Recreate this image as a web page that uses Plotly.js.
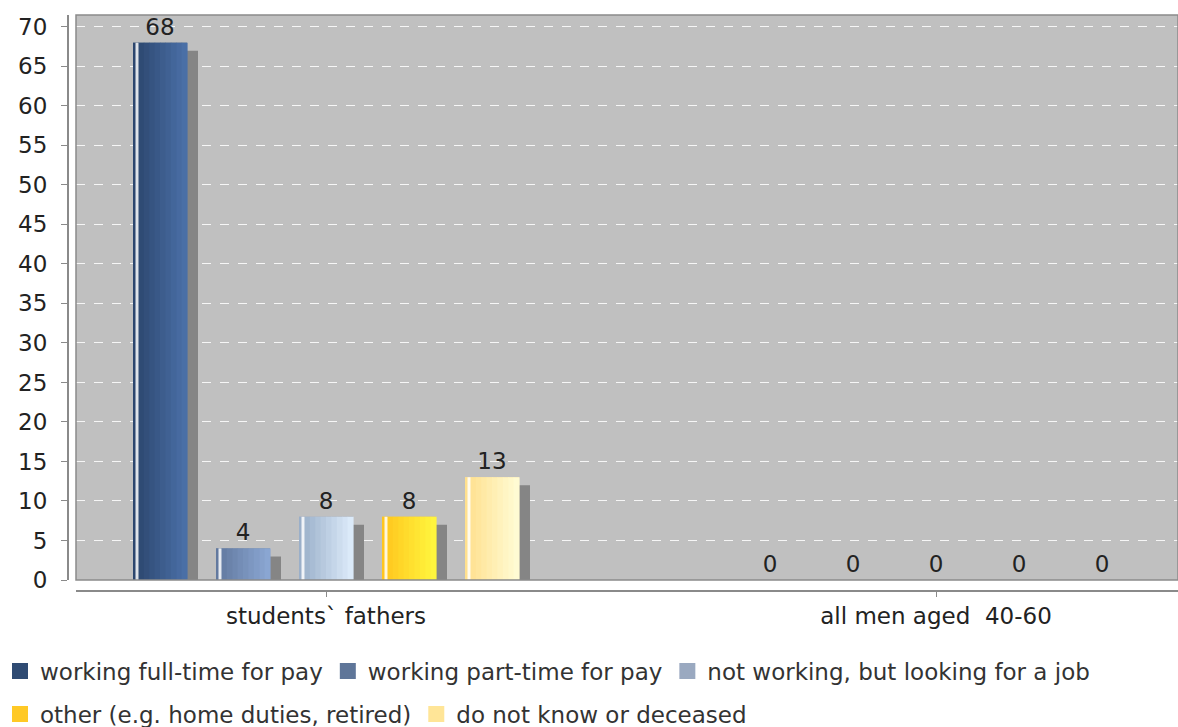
<!DOCTYPE html>
<html>
<head>
<meta charset="utf-8">
<script src="https://cdn.plot.ly/plotly-3.0.1.min.js"></script>
<style>html,body{margin:0;padding:0;background:#fff;}#chart{width:1178px;height:727px;}</style>
</head>
<body>
<div id="chart"></div>
<script>
// ---- data ----
var categories = ["students` fathers", "all men aged  40-60"];
var seriesNames = [
  "working full-time for pay",
  "working part-time for pay",
  "not working, but looking for a job",
  "other (e.g. home duties, retired)",
  "do not know or deceased"
];
var fullTime   = [68, 0];
var partTime   = [4, 0];
var notWorking = [8, 0];
var otherVals  = [8, 0];
var dontKnow   = [13, 0];

// ---- styles ----
var seriesValues = [fullTime, partTime, notWorking, otherVals, dontKnow];
var legendColors = ["#2f4b73", "#5f7699", "#9aa9c0", "#ffc926", "#ffe597"];
var gradLeft  = ["#2c466e", "#62799f", "#9aafc9", "#ffc61e", "#ffe08e"];
var gradRight = ["#4a6fa6", "#8aa6d2", "#dbeaf9", "#fff53d", "#fffbd3"];

var W = 1178, H = 727;
var mL = 67, mR = 0, mT = 15, mB = 137;
var plotLeftPx = 76;
var catPx = 610;
var firstCatPx = 326;
var pxX = 1 / catPx;
var xMin = (plotLeftPx - firstCatPx) * pxX;
var xMax = (W - mR - firstCatPx) * pxX;
var yTop = 71.5;
var pxY = yTop / 565;
var barW = 54 * pxX;
var slot = 83 * pxX;
var N = 10;
var FS = 23;

function hexToRgb(h){h=h.replace('#','');return [parseInt(h.substr(0,2),16),parseInt(h.substr(2,2),16),parseInt(h.substr(4,2),16)];}
function mix(a,b,t){var A=hexToRgb(a),B=hexToRgb(b);return 'rgb('+A.map(function(v,i){return Math.round(v+(B[i]-v)*t);}).join(',')+')';}

var xs = categories.map(function(c,i){return i;});
var traces = [];

// shadows
seriesValues.forEach(function(vals, s){
  var off = (s-2)*slot - barW/2;
  traces.push({type:'bar', x:xs, y:vals.map(function(v){return v - 8*pxY;}),
    offset: off + 11*pxX, width: barW, marker:{color:'#858585', line:{width:0}},
    showlegend:false, hoverinfo:'skip'});
});
// main bars with value labels
seriesValues.forEach(function(vals, s){
  var off = (s-2)*slot - barW/2;
  traces.push({type:'bar', name:seriesNames[s], x:xs, y:vals,
    offset: off, width: barW, marker:{color:legendColors[s], line:{width:0}},
    text: vals.map(String), textposition:'outside', cliponaxis:false,
    textfont:{family:'DejaVu Sans', size:FS, color:'#222'},
    showlegend:false});
});
// gradient slices
seriesValues.forEach(function(vals, s){
  var off = (s-2)*slot - barW/2;
  for (var k=0;k<N;k++){
    traces.push({type:'bar', x:xs, y:vals, offset: off + k*barW/N,
      width: barW/N + 0.6*pxX,
      marker:{color: mix(gradLeft[s], gradRight[s], k/(N-1)), line:{width:0}},
      showlegend:false, hoverinfo:'skip'});
  }
  traces.push({type:'bar', x:xs, y:vals, offset: off + 2.5*pxX, width: 3*pxX,
    marker:{color:'rgba(255,255,255,0.85)', line:{width:0}}, showlegend:false, hoverinfo:'skip'});
});
// legend entries (drawn on a hidden overlay axis whose range keeps them out of view)
seriesNames.forEach(function(n, s){
  traces.push({type:'bar', name:n, x:xs, y:seriesValues[s], yaxis:'y2',
    marker:{color:legendColors[s], line:{color:legendColors[s], width:4}},
    showlegend:true, hoverinfo:'skip', legend: s < 3 ? 'legend' : 'legend2'});
});

var tickFont = {family:'DejaVu Sans', size:FS, color:'#222'};
var yTicks = [];
for (var t=0;t<=70;t+=5) yTicks.push(t);

var layout = {
  width: W, height: H,
  margin: {l:mL, r:mR, t:mT, b:mB, pad:0},
  paper_bgcolor:'#ffffff', plot_bgcolor:'#c0c0c0',
  barmode:'overlay',
  showlegend:true,
  font:{family:'DejaVu Sans', color:'#222'},
  xaxis: {domain:[9/(W-mL-mR), 1], range:[xMin, xMax], anchor:'free', position:0,
    tickmode:'array', tickvals: xs, ticktext: categories,
    showline:true, linecolor:'#8a8a8a', linewidth:1.5, ticks:'outside', ticklen:5, tickcolor:'#8a8a8a',
    showgrid:false, zeroline:false, tickfont: tickFont, fixedrange:true},
  yaxis: {domain:[10/(H-mT-mB), 1], range:[0, yTop], anchor:'free', position:0,
    tickmode:'array', tickvals: yTicks,
    showline:true, linecolor:'#8a8a8a', linewidth:1.5, ticks:'outside', ticklen:6, tickcolor:'#8a8a8a',
    ticklabelstandoff: 9,
    showgrid:true, gridcolor:'rgba(255,255,255,0.85)', griddash:'dash', gridwidth:1,
    zeroline:false, tickfont: tickFont, fixedrange:true},
  yaxis2: {overlaying:'y', range:[1000, 2000], visible:false, fixedrange:true},
  shapes: [{type:'rect', xref:'x domain', yref:'y domain', x0:0, x1:1, y0:0, y1:1,
    line:{color:'#8a8a8a', width:1.5}, fillcolor:'rgba(0,0,0,0)', layer:'above'}],
  legend: {orientation:'h', xref:'container', yref:'container', x:-0.003, y:(H-671)/H,
    xanchor:'left', yanchor:'middle', font:{family:'DejaVu Sans', size:FS, color:'#333'},
    bgcolor:'rgba(0,0,0,0)', itemclick:false},
  legend2: {orientation:'h', xref:'container', yref:'container', x:-0.003, y:(H-714)/H,
    xanchor:'left', yanchor:'middle', font:{family:'DejaVu Sans', size:FS, color:'#333'},
    bgcolor:'rgba(0,0,0,0)', itemclick:false}
};

Plotly.newPlot('chart', traces, layout, {displayModeBar:false, staticPlot:true});
</script>
</body>
</html>
